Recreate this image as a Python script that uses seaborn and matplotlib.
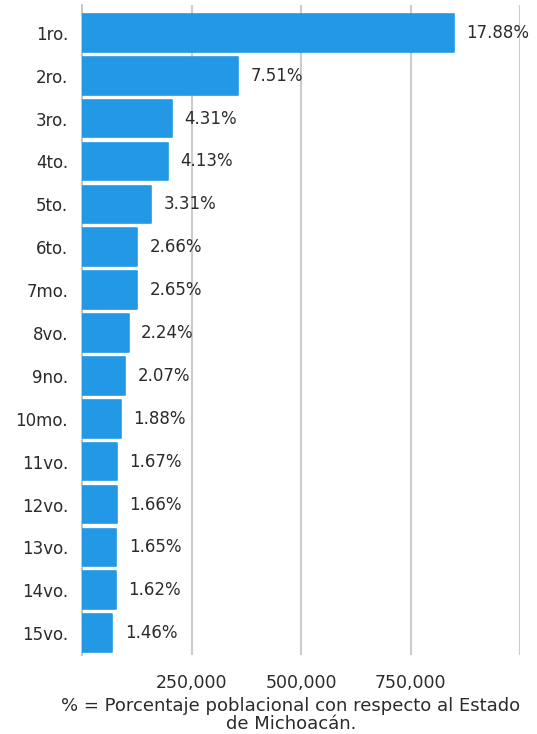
import matplotlib
matplotlib.use("Agg")
import matplotlib.pyplot as plt
import seaborn as sns
import pandas as pd

categories = ["1ro.", "2ro.", "3ro.", "4to.", "5to.", "6to.", "7mo.", "8vo.",
              "9no.", "10mo.", "11vo.", "12vo.", "13vo.", "14vo.", "15vo."]
population = [849053, 356786, 204860, 196003, 157056, 126300, 125800, 106400,
              98300, 89300, 79300, 78800, 78400, 76900, 69300]
percent_labels = ["17.88%", "7.51%", "4.31%", "4.13%", "3.31%", "2.66%", "2.65%",
                  "2.24%", "2.07%", "1.88%", "1.67%", "1.66%", "1.65%", "1.62%", "1.46%"]
tick_values = [250000, 500000, 750000, 1000000]
tick_labels = ["250,000", "500,000", "750,000", ""]
footnote_lines = ["% = Porcentaje poblacional con respecto al Estado", "de Michoacán."]

df = pd.DataFrame({"cat": categories, "pop": population})

sns.set_theme(style="white")
plt.rcParams["font.family"] = ["DejaVu Sans"]

W, H = 537, 734
fig = plt.figure(figsize=(W / 100, H / 100), dpi=100)
ax = fig.add_axes([82 / W, 1 - 655 / H, (520 - 82) / W, (655 - 5) / H])

bar_color = "#2399E6"
sns.barplot(data=df, x="pop", y="cat", orient="h", color=bar_color,
            saturation=1, width=0.88, ax=ax, zorder=3)
for p in ax.patches:
    p.set_edgecolor(bar_color)
    p.set_linewidth(1.2)
    p.set_joinstyle("round")

ax.set_xlim(0, 1000000)
ax.set_ylim(14.51, -0.65)
ax.set_xticks(tick_values)
ax.set_xticklabels(tick_labels)
ax.xaxis.grid(True, color="#cccccc", linewidth=1.5, zorder=0)
ax.set_axisbelow(True)
ax.set_xlabel("")
ax.set_ylabel("")
for side in ["top", "right", "bottom"]:
    ax.spines[side].set_visible(False)
ax.spines["left"].set_color("#bbbbbb")
ax.spines["left"].set_linewidth(1.2)

text_color = "#2b2b2b"
ax.tick_params(axis="y", length=0, pad=10, labelsize=12, labelcolor=text_color)
ax.tick_params(axis="x", length=0, pad=14, labelsize=12.5, labelcolor=text_color)

for i, (v, lab) in enumerate(zip(population, percent_labels)):
    ax.annotate(lab, (v, i), xytext=(9, 0), textcoords="offset points",
                va="center", ha="left", fontsize=12, color=text_color,
                annotation_clip=False)

for k, (line, ypx) in enumerate(zip(footnote_lines, [706, 724])):
    fig.text(291 / W, 1 - ypx / H, line, ha="center", va="center",
             fontsize=13, color=text_color)

fig.savefig("out.png", dpi=100, facecolor="white")
